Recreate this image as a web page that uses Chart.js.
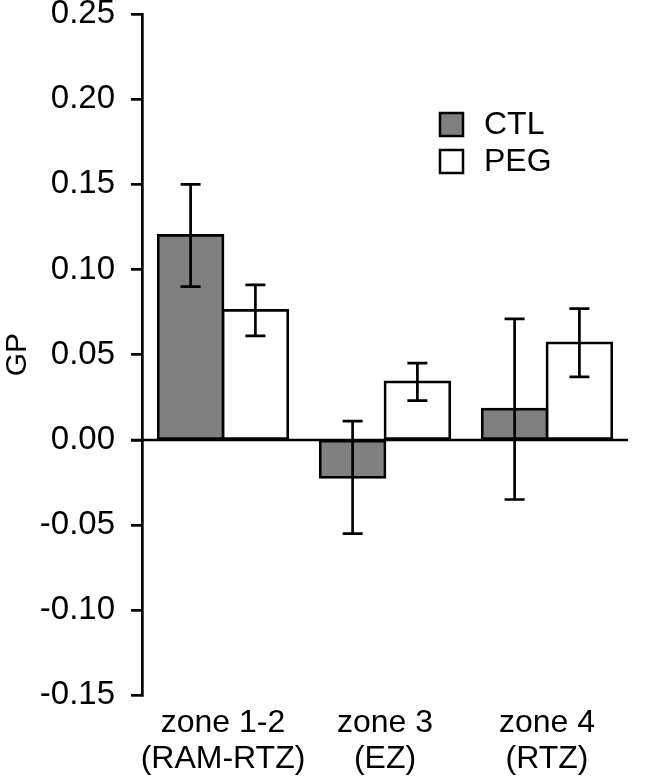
<!DOCTYPE html>
<html>
<head>
<meta charset="utf-8">
<script src="https://cdn.jsdelivr.net/npm/chart.js"></script>
<style>
  html, body { margin: 0; padding: 0; background: #fff; }
  #wrap { width: 646px; height: 779px; }
</style>
</head>
<body>
<div id="wrap"><canvas id="chart" width="646" height="779"></canvas></div>
<script>
// values
const zones = [['zone 1-2', '(RAM-RTZ)'], ['zone 3', '(EZ)'], ['zone 4', '(RTZ)']];
const ctlMean = [0.120, -0.022, 0.018];
const ctlErr = [0.030, 0.033, 0.053];
const pegMean = [0.076, 0.034, 0.057];
const pegErr = [0.015, 0.011, 0.020];
const yTicks = [-0.15, -0.10, -0.05, 0.00, 0.05, 0.10, 0.15, 0.20, 0.25];

const FONT = 'Liberation Sans, Arial, sans-serif';
const INK = '#000';

// horizontal line at y = 0, running from the axis tick out to the right edge
const zeroLine = {
  id: 'zeroLine',
  afterDatasetsDraw(chart) {
    const { ctx, chartArea, scales } = chart;
    const y = scales.y.getPixelForValue(0);
    ctx.save();
    ctx.strokeStyle = INK;
    ctx.lineWidth = 2.5;
    ctx.beginPath();
    ctx.moveTo(chartArea.left - 11, y);
    ctx.lineTo(chartArea.right, y);
    ctx.stroke();
    ctx.restore();
  }
};

const errorBars = {
  id: 'errorBars',
  afterDatasetsDraw(chart) {
    const { ctx, scales } = chart;
    ctx.save();
    ctx.strokeStyle = INK;
    ctx.lineWidth = 2.7;
    chart.data.datasets.forEach((ds, i) => {
      const meta = chart.getDatasetMeta(i);
      meta.data.forEach((bar, j) => {
        const m = ds.data[j], e = ds.errors[j];
        const yTop = scales.y.getPixelForValue(m + e);
        const yBot = scales.y.getPixelForValue(m - e);
        ctx.beginPath();
        ctx.moveTo(bar.x, yTop); ctx.lineTo(bar.x, yBot);
        ctx.moveTo(bar.x - 10, yTop); ctx.lineTo(bar.x + 10, yTop);
        ctx.moveTo(bar.x - 10, yBot); ctx.lineTo(bar.x + 10, yBot);
        ctx.stroke();
      });
    });
    ctx.restore();
  }
};

const boxLegend = {
  id: 'boxLegend',
  afterDraw(chart) {
    const { ctx } = chart;
    ctx.save();
    ctx.font = '32px ' + FONT;
    ctx.textBaseline = 'middle';
    ctx.lineWidth = 2.5;
    chart.data.datasets.forEach((ds, i) => {
      const bx = 440, by = 113 + i * 37;
      ctx.fillStyle = ds.backgroundColor;
      ctx.fillRect(bx, by, 23, 23);
      ctx.strokeStyle = INK;
      ctx.strokeRect(bx, by, 23, 23);
      ctx.fillStyle = INK;
      ctx.fillText(ds.label, 484, by + 12);
    });
    ctx.restore();
  }
};

new Chart(document.getElementById('chart'), {
  type: 'bar',
  data: {
    labels: zones,
    datasets: [
      { label: 'CTL', data: ctlMean, errors: ctlErr, backgroundColor: '#808080', borderColor: INK, borderWidth: 2.7, borderSkipped: false, inflateAmount: 1.35 },
      { label: 'PEG', data: pegMean, errors: pegErr, backgroundColor: '#ffffff', borderColor: INK, borderWidth: 2.7, borderSkipped: false, inflateAmount: 1.35 }
    ]
  },
  options: {
    responsive: false,
    animation: false,
    events: [],
    layout: { padding: { top: 14, right: 18, left: 0, bottom: 0 } },
    datasets: { bar: { categoryPercentage: 0.8, barPercentage: 1.0 } },
    plugins: { legend: { display: false }, tooltip: { enabled: false } },
    scales: {
      x: {
        afterFit(scale) { scale.paddingLeft = 0; scale.paddingRight = 0; },
        grid: { display: false },
        border: { display: false },
        ticks: { color: INK, font: { family: FONT, size: 32, lineHeight: 1.15 }, padding: 1, maxRotation: 0, autoSkip: false }
      },
      y: {
        min: -0.15,
        max: 0.25,
        afterFit(scale) { scale.width = 142; scale.paddingTop = 0; scale.paddingBottom = 0; },
        afterBuildTicks(scale) { scale.ticks = yTicks.map(v => ({ value: v })); },
        border: { display: true, color: INK, width: 2.7 },
        grid: { drawOnChartArea: false, drawTicks: true, tickLength: 11, color: INK, lineWidth: 2.7 },
        ticks: {
          color: INK,
          padding: 16,
          font: { family: FONT, size: 33 },
          callback: v => v.toFixed(2)
        },
        title: { display: true, text: 'GP', color: INK, font: { family: FONT, size: 30 }, padding: 0 }
      }
    }
  },
  plugins: [zeroLine, errorBars, boxLegend]
});
</script>
</body>
</html>
